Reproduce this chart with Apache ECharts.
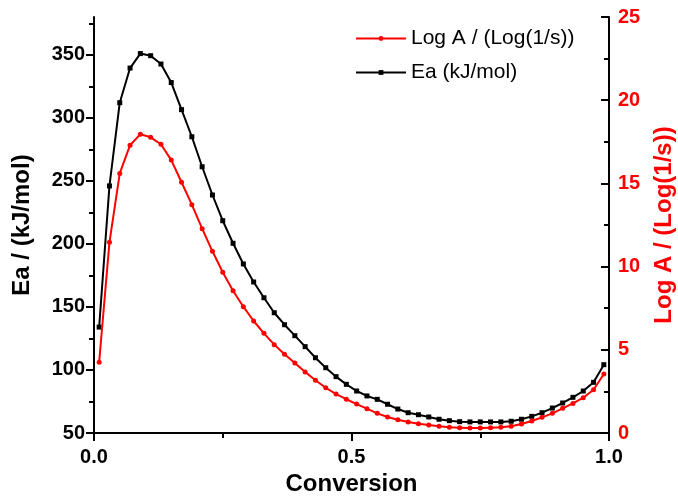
<!DOCTYPE html>
<html>
<head>
<meta charset="utf-8">
<script src="https://cdn.jsdelivr.net/npm/echarts@6/dist/echarts.min.js"></script>
<style>
    html, body { margin: 0; padding: 0; background: #fff; }
    #chart { width: 678px; height: 497px; }
</style>
</head>
<body>
<div id="chart"></div>
<script>
// conversion (x)
const conversion = [
    0.01, 0.03, 0.05, 0.07, 0.09, 0.11, 0.13, 0.15, 0.17, 0.19,
    0.21, 0.23, 0.25, 0.27, 0.29, 0.31, 0.33, 0.35, 0.37, 0.39,
    0.41, 0.43, 0.45, 0.47, 0.49, 0.51, 0.53, 0.55, 0.57, 0.59,
    0.61, 0.63, 0.65, 0.67, 0.69, 0.71, 0.73, 0.75, 0.77, 0.79,
    0.81, 0.83, 0.85, 0.87, 0.89, 0.91, 0.93, 0.95, 0.97, 0.99
];
// Ea (kJ/mol), left axis
const ea = [
    134, 246, 312, 339.5, 351, 349.3, 342.7, 328, 306.5, 285,
    261.2, 238.8, 218.4, 200.5, 184.1, 169.8, 157.3, 145.4, 135.9, 127.2,
    118.5, 109.7, 101.8, 94.7, 88.6, 83.3, 79.4, 76.7, 72.8, 69.0,
    66.1, 64.5, 62.7, 60.9, 59.8, 59.0, 58.8, 58.8, 58.8, 58.8,
    59.3, 60.9, 63.2, 66.1, 69.8, 73.8, 78.3, 83.3, 90.2, 104.2
];
// Log A, right axis
const logA = [
    4.25, 11.46, 15.6, 17.3, 17.95, 17.77, 17.35, 16.4, 15.07, 13.72,
    12.28, 10.92, 9.66, 8.55, 7.59, 6.73, 5.99, 5.31, 4.73, 4.21,
    3.67, 3.17, 2.72, 2.34, 2.03, 1.74, 1.46, 1.18, 0.96, 0.80,
    0.66, 0.56, 0.48, 0.40, 0.34, 0.32, 0.30, 0.30, 0.32, 0.34,
    0.40, 0.54, 0.72, 0.94, 1.18, 1.48, 1.78, 2.12, 2.60, 3.55
];
// tick values
const eaMajorTicks = [50, 100, 150, 200, 250, 300, 350];
const eaMinorTicks = [75, 125, 175, 225, 275, 325, 375];

const FONT = '"Liberation Sans", Arial, sans-serif';

const chart = echarts.init(document.getElementById('chart'), null, { renderer: 'canvas' });

const axisLineStyle = { color: '#000', width: 2 };

chart.setOption({
    animation: false,
    backgroundColor: '#fff',
    grid: { left: 94, right: 69, top: 17, bottom: 64, containLabel: false, outerBoundsMode: 'none' },
    legend: {
        left: 350,
        top: 23,
        orient: 'vertical',
        itemWidth: 50,
        itemHeight: 6,
        itemGap: 13,
        textStyle: { fontFamily: FONT, fontSize: 21, color: '#000' },
        data: ['Log A / (Log(1/s))', 'Ea (kJ/mol)']
    },
    xAxis: {
        type: 'value',
        min: 0,
        max: 1,
        interval: 0.5,
        name: 'Conversion',
        nameLocation: 'middle',
        nameGap: 36,
        nameTextStyle: { fontFamily: FONT, fontSize: 24, fontWeight: 'bold', color: '#000' },
        axisLine: { show: true, lineStyle: axisLineStyle },
        axisTick: { show: true, length: 8, lineStyle: axisLineStyle },
        minorTick: { show: true, splitNumber: 2, length: 5, lineStyle: { color: '#000', width: 2 } },
        axisLabel: {
            margin: 14, fontFamily: FONT, fontSize: 20, fontWeight: 'bold', color: '#000',
            formatter: v => v.toFixed(1)
        },
        splitLine: { show: false }
    },
    yAxis: [
        {
            type: 'value',
            position: 'left',
            min: 50,
            max: 380,
            interval: 50,
            name: 'Ea / (kJ/mol)',
            nameLocation: 'middle',
            nameGap: 60,
            nameTextStyle: { fontFamily: FONT, fontSize: 24, fontWeight: 'bold', color: '#000' },
            axisLine: { show: true, lineStyle: axisLineStyle },
            axisTick: { show: true, length: 8, customValues: eaMajorTicks, lineStyle: axisLineStyle },
            axisLabel: {
                margin: 9, fontFamily: FONT, fontSize: 20, fontWeight: 'bold', color: '#000',
                customValues: eaMajorTicks
            },
            splitLine: { show: false }
        },
        {
            // Log A axis on the right
            type: 'value',
            position: 'right',
            min: 0,
            max: 25,
            interval: 5,
            name: 'Log A / (Log(1/s))',
            nameLocation: 'middle',
            nameGap: 43,
            nameTextStyle: { fontFamily: FONT, fontSize: 24, fontWeight: 'bold', color: '#ff0000' },
            axisLine: { show: true, lineStyle: axisLineStyle },
            axisTick: { show: true, inside: true, length: 8, lineStyle: axisLineStyle },
            minorTick: { show: true, splitNumber: 2, length: 5, lineStyle: { color: '#000', width: 2 } },
            axisLabel: { margin: 9, fontFamily: FONT, fontSize: 20, fontWeight: 'bold', color: '#ff0000' },
            splitLine: { show: false }
        },
        {
            // minor ticks for the Ea axis only
            type: 'value',
            position: 'left',
            min: 50,
            max: 380,
            axisLine: { show: false },
            axisTick: { show: true, length: 5, customValues: eaMinorTicks, lineStyle: axisLineStyle },
            axisLabel: { show: false },
            splitLine: { show: false }
        }
    ],
    series: [
        {
            name: 'Ea (kJ/mol)',
            type: 'line',
            yAxisIndex: 0,
            data: conversion.map((c, i) => [c, ea[i]]),
            symbol: 'rect',
            symbolSize: 5,
            showAllSymbol: true,
            lineStyle: { color: '#000', width: 2 },
            itemStyle: { color: '#000' },
            z: 2
        },
        {
            name: 'Log A / (Log(1/s))',
            type: 'line',
            yAxisIndex: 1,
            data: conversion.map((c, i) => [c, logA[i]]),
            symbol: 'circle',
            symbolSize: 5,
            showAllSymbol: true,
            lineStyle: { color: '#ff0000', width: 2 },
            itemStyle: { color: '#ff0000' },
            z: 3
        }
    ]
});
</script>
</body>
</html>
